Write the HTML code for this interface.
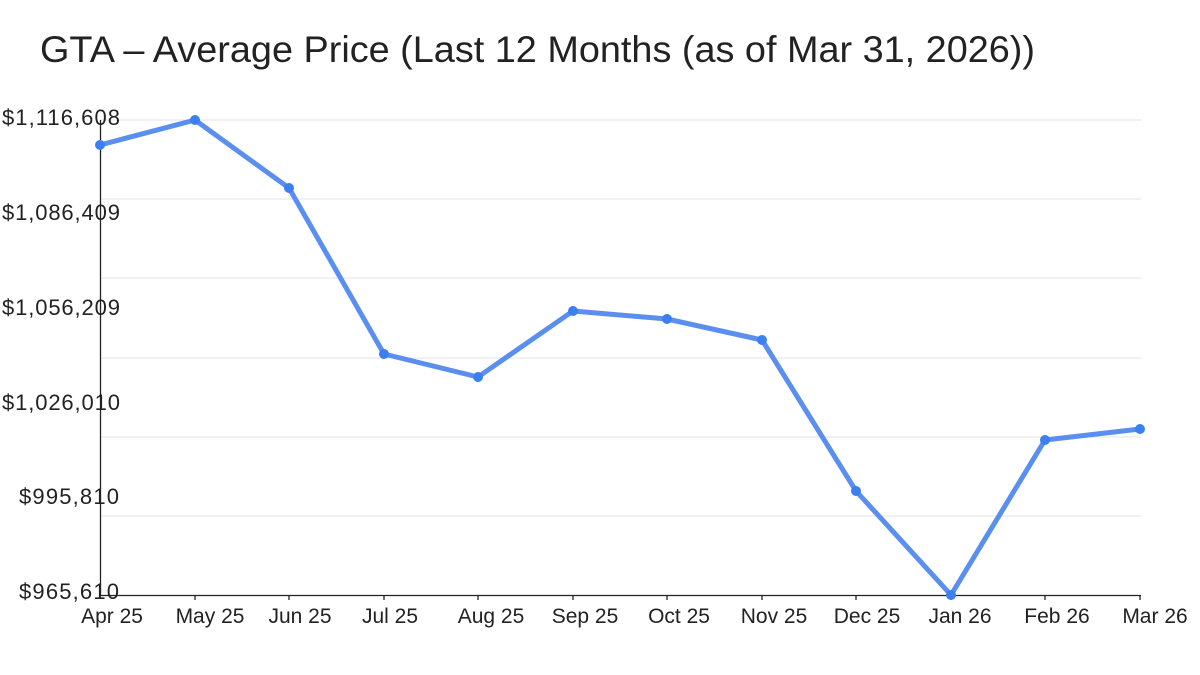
<!DOCTYPE html><html><head><style>body{margin:0;background:#fff}svg{display:block}text{font-family:"Liberation Sans","DejaVu Sans",sans-serif;fill:#222}</style></head><body>
<svg width="1200" height="675" viewBox="0 0 1200 675">
<text x="40" y="62" font-size="37" textLength="995" lengthAdjust="spacingAndGlyphs">GTA – Average Price (Last 12 Months (as of Mar 31, 2026))</text>
<g stroke="#e3e3e3" stroke-width="1">
<line x1="100" x2="1141" y1="120" y2="120"/><line x1="100" x2="1141" y1="199" y2="199"/><line x1="100" x2="1141" y1="278" y2="278"/><line x1="100" x2="1141" y1="358" y2="358"/><line x1="100" x2="1141" y1="437" y2="437"/><line x1="100" x2="1141" y1="516" y2="516"/></g>
<g font-size="22" lengthAdjust="spacingAndGlyphs">
<text x="2" y="125" textLength="118">$1,116,608</text><text x="2" y="220" textLength="118">$1,086,409</text><text x="2" y="315" textLength="118">$1,056,209</text><text x="2" y="410" textLength="118">$1,026,010</text><text x="19" y="504" textLength="100">$995,810</text><text x="19" y="599" textLength="100">$965,610</text></g>
<g stroke="#222" stroke-width="1.3"><line x1="100.5" y1="120" x2="100.5" y2="595"/><line x1="100" y1="595.5" x2="1141" y2="595.5"/>
<line x1="195" y1="595" x2="195" y2="600"/><line x1="289" y1="595" x2="289" y2="600"/><line x1="384" y1="595" x2="384" y2="600"/><line x1="478" y1="595" x2="478" y2="600"/><line x1="573" y1="595" x2="573" y2="600"/><line x1="667" y1="595" x2="667" y2="600"/><line x1="762" y1="595" x2="762" y2="600"/><line x1="856" y1="595" x2="856" y2="600"/><line x1="951" y1="595" x2="951" y2="600"/><line x1="1045" y1="595" x2="1045" y2="600"/><line x1="1140" y1="595" x2="1140" y2="600"/></g>
<g font-size="21" text-anchor="middle">
<text x="112" y="623">Apr 25</text><text x="210" y="623">May 25</text><text x="300" y="623">Jun 25</text><text x="390" y="623">Jul 25</text><text x="491" y="623">Aug 25</text><text x="585" y="623">Sep 25</text><text x="679" y="623">Oct 25</text><text x="774" y="623">Nov 25</text><text x="867" y="623">Dec 25</text><text x="960" y="623">Jan 26</text><text x="1057" y="623">Feb 26</text><text x="1155" y="623">Mar 26</text></g>
<polyline fill="none" stroke="#5b8fef" stroke-width="5" stroke-linejoin="round" points="100,145 195,120 289,188 384,354 478,377 573,311 667,319 762,340 856,491 951,595 1045,440 1140,429"/>
<g fill="#3b7ff0"><circle cx="100" cy="145" r="5"/><circle cx="195" cy="120" r="5"/><circle cx="289" cy="188" r="5"/><circle cx="384" cy="354" r="5"/><circle cx="478" cy="377" r="5"/><circle cx="573" cy="311" r="5"/><circle cx="667" cy="319" r="5"/><circle cx="762" cy="340" r="5"/><circle cx="856" cy="491" r="5"/><circle cx="951" cy="595" r="5"/><circle cx="1045" cy="440" r="5"/><circle cx="1140" cy="429" r="5"/></g>
</svg></body></html>
